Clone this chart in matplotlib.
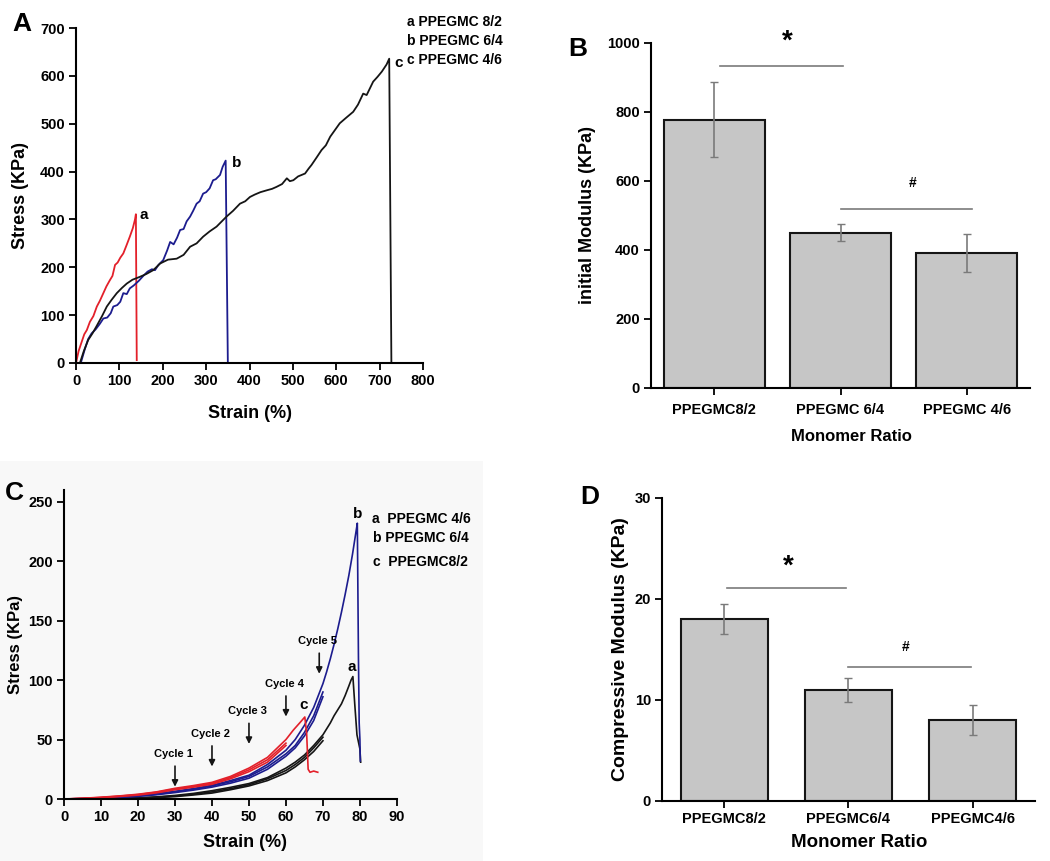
import matplotlib
matplotlib.use("Agg")
from matplotlib import pyplot as plt
from matplotlib.patches import Rectangle

plt.rcParams['font.family'] = ['Liberation Sans', 'DejaVu Sans']
plt.rcParams['font.weight'] = 'bold'

# ---- panel A : tensile stress-strain ----
a_x = [0, 6, 13, 19, 25, 32, 40, 48, 55, 63, 70, 78, 84, 90, 96, 102, 109, 116, 124, 131, 136, 138, 140]
a_y = [0, 25, 44, 60, 69, 86, 98, 118, 130, 146, 160, 173, 182, 205, 210, 220, 229, 245, 264, 282, 300, 311, 6]
b_x = [11, 20, 28, 36, 45, 55, 63, 72, 80, 86, 95, 102, 109, 117, 124, 133, 145, 155, 165, 175, 182, 190, 201, 210, 217, 225,
       233, 240, 248, 255, 263, 270, 278, 285, 293, 300, 308, 316, 322, 332, 338, 345, 350]
b_y = [0, 28, 50, 62, 70, 82, 93, 95, 104, 118, 121, 128, 146, 144, 156, 162, 172, 182, 191, 196, 194, 205, 215, 235, 253, 248,
       262, 278, 280, 296, 306, 318, 333, 338, 354, 357, 365, 382, 384, 393, 410, 423, 0]
c_x = [9, 18, 28, 38, 48, 60, 71, 82, 94, 106, 117, 130, 147, 162, 178, 194, 212, 232, 248, 263, 278, 293, 308, 324, 336, 347,
       362, 378, 390, 401, 412, 425, 440, 452, 462, 475, 486, 493, 501, 512, 528, 536, 543, 555, 566, 576, 586, 597, 608, 622,
       639, 650, 662, 670, 685, 695, 705, 716, 722, 727]
c_y = [0, 25, 48, 62, 78, 98, 118, 132, 146, 157, 166, 174, 180, 186, 194, 208, 216, 218, 226, 243, 250, 264, 275, 285, 296, 306,
       318, 333, 338, 347, 352, 357, 361, 364, 368, 374, 386, 380, 382, 390, 396, 406, 414, 430, 445, 455, 473, 487, 501, 512,
       525, 540, 563, 560, 588, 598, 609, 624, 636, 3]

# ---- panel B : initial modulus ----
groups_b = ['PPEGMC8/2', 'PPEGMC 6/4', 'PPEGMC 4/6']
mod_b = [778, 450, 390]
err_b = [109, 25, 55]

# ---- panel C : cyclic compression ----
strain_c = [0, 5, 10, 15, 20, 25, 30, 35, 40, 45, 50, 55, 60, 62.5, 65, 67.5, 70]
red_x = strain_c[:13] + [62, 64, 65.1, 65.6, 66, 66.5, 67.5, 68.6]
red_y = [0, 0.6, 1.5, 2.6, 4, 6, 9, 11.3, 14, 19, 26, 35, 50, 58, 65, 69, 55, 25, 22.5, 23.5, 22.5]
red_cyc1_y = [0, 0.5, 1.3, 2.4, 3.7, 5.7, 8.4, 10.6, 13.2, 18, 24.5, 33, 47]
red_cyc2_y = [0, 0.4, 1.1, 2.1, 3.3, 5.2, 7.8, 10, 12.4, 17, 23, 31, 45]
blue_x = strain_c + [71, 72, 73, 74, 75, 76, 77, 78, 79, 79.3, 79.6, 79.8, 80, 80.1]
blue_y = [0, 0.4, 1, 1.9, 3, 4.5, 6.5, 8.8, 11.5, 15.5, 20, 29, 41, 50, 62, 77, 97,
          107, 118, 130, 143, 157, 172, 188, 206, 226, 232, 120, 64, 50, 32]
blue_cyc1_y = [0, 0.3, 0.8, 1.6, 2.6, 4, 6, 8.2, 11, 14.5, 19, 27, 38, 45, 56, 70, 90]
blue_cyc2_y = [0, 0.2, 0.6, 1.3, 2.2, 3.6, 5.4, 7.5, 10, 13.3, 17.5, 25, 36, 43, 53, 66, 86]
black_x = strain_c + [71, 72, 73, 74, 75, 76, 77, 77.6, 78.1, 78.6, 79.2, 79.6, 80, 80.2]
black_y = [0, 0.1, 0.3, 0.6, 1, 1.8, 3, 4.7, 7, 9.8, 13, 18, 26, 31, 37, 45, 54,
           59, 64, 70, 75, 80, 87, 95, 100, 103, 80, 54, 48, 42, 31]
black_cyc1_y = [0, 0.05, 0.2, 0.4, 0.8, 1.5, 2.5, 4, 6, 8.7, 12, 17, 24, 29, 35, 43, 52]
black_cyc2_y = [0, 0.03, 0.1, 0.3, 0.6, 1.2, 2, 3.4, 5, 7.8, 11, 15.5, 22, 27, 33, 40, 49]
cycles = ['Cycle 1', 'Cycle 2', 'Cycle 3', 'Cycle 4', 'Cycle 5']
cycle_strain = [30, 40, 50, 60, 69]
cycle_tip = [8, 25, 44, 67, 103]

# ---- panel D : compressive modulus ----
groups_d = ['PPEGMC8/2', 'PPEGMC6/4', 'PPEGMC4/6']
mod_d = [18, 11, 8]
err_d = [1.5, 1.2, 1.5]

red = "#e3202a"
blue = "#1c1c8e"
black = "#151515"
grey_bar = "#c6c6c6"
grey_line = "#7a7a7a"

fig = plt.figure(figsize=(10.5, 8.61), dpi=100, facecolor="white")

# faint grey backdrop behind panel C (as in the scanned figure)
fig.patches.append(Rectangle((0, 0), 0.46, 0.465, transform=fig.transFigure,
                             facecolor="#f8f8f8", edgecolor="none", zorder=-10))


def style(ax, fs=10.5):
    ax.spines['top'].set_visible(False)
    ax.spines['right'].set_visible(False)
    ax.spines['left'].set_linewidth(1.5)
    ax.spines['bottom'].set_linewidth(1.5)
    ax.tick_params(direction='out', length=5, width=1.3, labelsize=fs, pad=3)
    ax.patch.set_alpha(0)
    for t in ax.get_xticklabels() + ax.get_yticklabels():
        t.set_fontweight('bold')


# panel A
axA = fig.add_axes([0.0724, 0.5784, 0.3305, 0.389])
axA.plot(a_x, a_y, color=red, lw=1.3)
axA.plot(b_x, b_y, color=blue, lw=1.3)
axA.plot(c_x, c_y, color=black, lw=1.3)
axA.set_xlim(0, 800)
axA.set_ylim(0, 700)
axA.set_xticks(range(0, 801, 100))
axA.set_yticks(range(0, 701, 100))
style(axA)
axA.set_xlabel("Strain (%)", fontsize=13, fontweight='bold', labelpad=12)
axA.set_ylabel("Stress (KPa)", fontsize=13, fontweight='bold', labelpad=8)
axA.text(146, 310, "a", fontsize=11, fontweight='bold', va='center')
axA.text(360, 418, "b", fontsize=11, fontweight='bold', va='center')
axA.text(733, 626, "c", fontsize=11, fontweight='bold', va='center')
for i, s in enumerate(["a PPEGMC 8/2", "b PPEGMC 6/4", "c PPEGMC 4/6"]):
    fig.text(407 / 1050, 1 - (22 + i * 19) / 861, s, fontsize=10, fontweight='bold', va='center')

# panel B
axB = fig.add_axes([0.620, 0.5494, 0.361, 0.4007])
xb = range(len(groups_b))
axB.bar(xb, mod_b, width=0.8, color=grey_bar, edgecolor=black, linewidth=1.5)
axB.errorbar(xb, mod_b, yerr=err_b, fmt='none', ecolor=grey_line, elinewidth=1.2, capsize=3)
axB.set_xlim(-0.5, 2.5)
axB.set_ylim(0, 1000)
axB.set_yticks(range(0, 1001, 200))
axB.set_xticks(list(xb))
axB.set_xticklabels(groups_b)
style(axB)
axB.tick_params(axis='x', pad=6)
axB.set_xlabel("Monomer Ratio", fontsize=12, fontweight='bold')
axB.xaxis.set_label_coords(0.53, -0.119)
axB.set_ylabel("initial Modulus (KPa)", fontsize=13, fontweight='bold', labelpad=8)
axB.plot([0.05, 1.02], [933, 933], color=grey_line, lw=1.2, clip_on=False)
axB.text(0.58, 1005, "*", fontsize=20, fontweight='bold', ha='center', va='center', clip_on=False)
axB.plot([1.0, 2.04], [519, 519], color=grey_line, lw=1.2)
axB.text(1.57, 595, "#", fontsize=10, fontweight='bold', ha='center', va='center')

# panel C
axC = fig.add_axes([0.061, 0.072, 0.317, 0.359])
for yy in [black_cyc1_y, black_cyc2_y]:
    axC.plot(strain_c, yy, color=black, lw=1.2)
axC.plot(black_x, black_y, color=black, lw=1.2)
for yy in [blue_cyc1_y, blue_cyc2_y]:
    axC.plot(strain_c, yy, color=blue, lw=1.2)
axC.plot(blue_x, blue_y, color=blue, lw=1.2)
for yy in [red_cyc1_y, red_cyc2_y]:
    axC.plot(strain_c[:13], yy, color=red, lw=1.2)
axC.plot(red_x, red_y, color=red, lw=1.2)
axC.set_xlim(0, 90)
axC.set_ylim(0, 260)
axC.set_xticks(range(0, 91, 10))
axC.set_yticks(range(0, 251, 50))
style(axC)
axC.set_xlabel("Strain (%)", fontsize=13, fontweight='bold')
axC.xaxis.set_label_coords(0.543, -0.113)
axC.set_ylabel("Stress (KPa)", fontsize=12, fontweight='bold', labelpad=4)
for name, sx, tip in zip(cycles, cycle_strain, cycle_tip):
    axC.annotate("", xy=(sx, tip), xytext=(sx, tip + 22),
                 arrowprops=dict(arrowstyle='-|>', color=black, lw=1.2, mutation_scale=9))
    axC.text(sx - 0.4, tip + 30, name, fontsize=8, fontweight='bold', ha='center', va='center')
axC.text(79.3, 240, "b", fontsize=11, fontweight='bold', ha='center', va='center')
axC.text(77.8, 111, "a", fontsize=11, fontweight='bold', ha='center', va='center')
axC.text(64.7, 79, "c", fontsize=11, fontweight='bold', ha='center', va='center')
fig.text(372 / 1050, 1 - 519 / 861, "a  PPEGMC 4/6", fontsize=10, fontweight='bold', va='center')
fig.text(373 / 1050, 1 - 538 / 861, "b PPEGMC 6/4", fontsize=10, fontweight='bold', va='center')
fig.text(373 / 1050, 1 - 562 / 861, "c  PPEGMC8/2", fontsize=10, fontweight='bold', va='center')

# panel D
axD = fig.add_axes([0.6305, 0.0697, 0.355, 0.352])
xd = range(len(groups_d))
axD.bar(xd, mod_d, width=0.7, color=grey_bar, edgecolor=black, linewidth=1.5)
axD.errorbar(xd, mod_d, yerr=err_d, fmt='none', ecolor=grey_line, elinewidth=1.2, capsize=3)
axD.set_xlim(-0.5, 2.5)
axD.set_ylim(0, 30)
axD.set_yticks([0, 10, 20, 30])
axD.set_xticks(list(xd))
axD.set_xticklabels(groups_d)
style(axD)
axD.set_xlabel("Monomer Ratio", fontsize=13.5, fontweight='bold')
axD.xaxis.set_label_coords(0.53, -0.109)
axD.set_ylabel("Compressive Modulus (KPa)", fontsize=14, fontweight='bold', labelpad=4)
axD.plot([0.02, 0.98], [21.1, 21.1], color=grey_line, lw=1.2)
axD.text(0.52, 23.2, "*", fontsize=20, fontweight='bold', ha='center', va='center')
axD.plot([1.0, 1.99], [13.3, 13.3], color=grey_line, lw=1.2)
axD.text(1.46, 15.2, "#", fontsize=10, fontweight='bold', ha='center', va='center')

# panel letters
for letter, px, py in [("A", 22, 24), ("B", 578, 49), ("C", 14, 493), ("D", 590, 497)]:
    fig.text(px / 1050, 1 - py / 861, letter, fontsize=19, fontweight='bold', ha='center', va='center')

fig.savefig("out.png", dpi=100, facecolor="white")
